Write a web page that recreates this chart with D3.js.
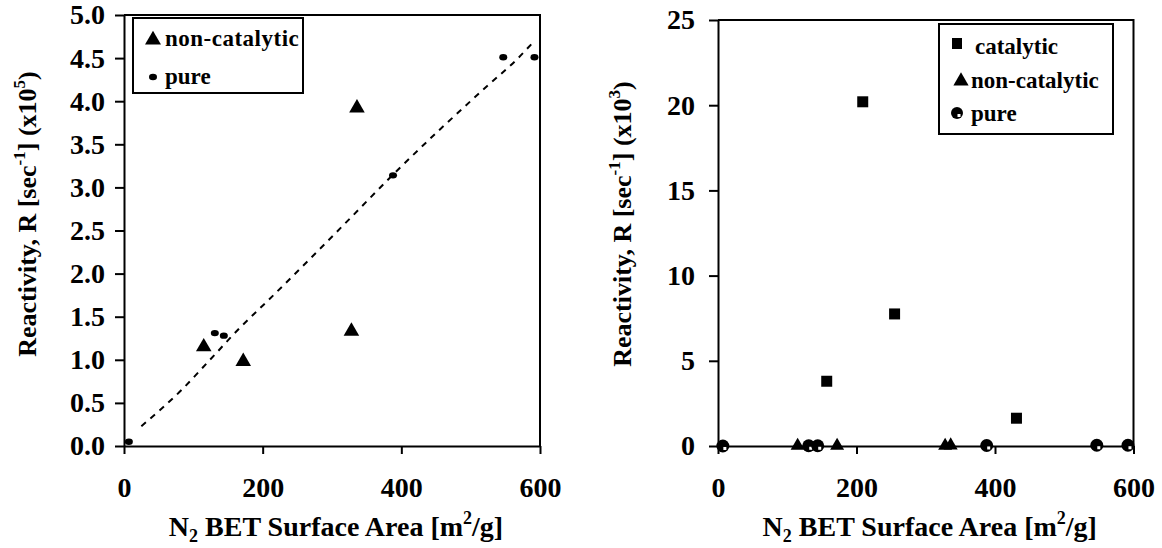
<!DOCTYPE html>
<html>
<head>
<meta charset="utf-8">
<script src="https://cdn.jsdelivr.net/npm/d3@7"></script>
<style>
  body { margin: 0; background: #fff; }
  svg text { font-family: "Liberation Serif", "Times New Roman", serif; font-weight: bold; fill: #000; }
</style>
</head>
<body>
<div id="chart"></div>
<script>
// tick values
const xTicks = [0, 200, 400, 600];
const leftYTicks = [0, 0.5, 1.0, 1.5, 2.0, 2.5, 3.0, 3.5, 4.0, 4.5, 5.0];
const rightYTicks = [0, 5, 10, 15, 20, 25];

// left panel, reactivity x10^5
const nonCatX = [115, 172, 328, 336];
const nonCatY = [1.15, 0.98, 1.33, 3.92];
const pureX = [7, 131, 144, 388, 547, 592];
const pureY = [0.05, 1.31, 1.28, 3.14, 4.51, 4.51];
const fitX = [25, 83, 124, 167, 208, 326, 387, 523, 566, 592];
const fitY = [0.23, 0.65, 1.0, 1.37, 1.69, 2.64, 3.14, 4.17, 4.48, 4.7];

// right panel, reactivity x10^3
const catX = [157, 209, 255, 431];
const catY = [3.8, 20.2, 7.75, 1.63];
const nonCatY3 = [0.01, 0.01, 0.013, 0.039];
const pureY3 = [0.001, 0.013, 0.013, 0.031, 0.045, 0.045];

const w = 1162, h = 548;
const svg = d3.select("#chart").append("svg")
  .attr("width", w).attr("height", h);

//Builds the frame, axes and titles of one panel and returns its scales.
function drawPanel(opt) {
  const x = d3.scaleLinear().domain([0, 600]).range([opt.left, opt.right]);
  const y = d3.scaleLinear().domain([0, opt.yMax]).range([opt.bottom, opt.top]);

  //box on top and right
  svg.append("path")
    .attr("d", `M${opt.left},${opt.top}H${opt.right}V${opt.bottom}`)
    .attr("fill", "none").attr("stroke", "#000").attr("stroke-width", 2);

  const gx = svg.append("g")
    .attr("transform", `translate(0,${opt.bottom})`)
    .call(d3.axisBottom(x).tickValues(xTicks).tickSize(8).tickSizeOuter(0).tickPadding(23));
  const gy = svg.append("g")
    .attr("transform", `translate(${opt.left},0)`)
    .call(d3.axisLeft(y).tickValues(opt.yTicks).tickFormat(opt.fmt)
      .tickSize(9).tickSizeOuter(0).tickPadding(opt.labelPad));

  [gx, gy].forEach(g => {
    g.attr("font-family", null).attr("font-size", null);
    g.select(".domain").attr("stroke-width", 2);
    g.selectAll(".tick line").attr("stroke-width", 2);
    g.selectAll(".tick text").style("font-size", "28px");
  });

  //x title
  const xt = svg.append("text")
    .attr("x", (opt.left + opt.right) / 2 + 4)
    .attr("y", 536)
    .attr("text-anchor", "middle")
    .style("font-size", "28px");
  xt.append("tspan").text("N");
  xt.append("tspan").attr("dy", 6).style("font-size", "18px").text("2");
  xt.append("tspan").attr("dy", -6).text("\u00a0BET Surface Area [m");
  xt.append("tspan").attr("dy", -12).style("font-size", "18px").text("2");
  xt.append("tspan").attr("dy", 12).text("/g]");

  //y title
  const yt = svg.append("text")
    .attr("transform", `translate(${opt.titleX},${opt.titleY}) rotate(-90)`)
    .attr("text-anchor", "middle")
    .style("font-size", "26px");
  yt.append("tspan").text("Reactivity, R [sec");
  yt.append("tspan").attr("dy", -11).style("font-size", "17px").text("-1");
  yt.append("tspan").attr("dy", 11).text("] (x10");
  yt.append("tspan").attr("dy", -11).style("font-size", "17px").text(opt.exp);
  yt.append("tspan").attr("dy", 11).text(")");

  return { x, y };
}

const triangle = d3.symbol().type(d3.symbolTriangle);
const square = d3.symbol().type(d3.symbolSquare);

// ---------- left panel ----------
const L = drawPanel({
  left: 124, right: 540, top: 15, bottom: 446, yMax: 5,
  yTicks: leftYTicks, fmt: d3.format(".1f"), labelPad: 10,
  titleX: 36, titleY: 214, exp: "5"
});

//dashed fit
const fitLine = d3.line().curve(d3.curveMonotoneX)
  .x(d => L.x(d[0])).y(d => L.y(d[1]));
svg.append("path")
  .datum(d3.zip(fitX, fitY))
  .attr("d", fitLine)
  .attr("fill", "none").attr("stroke", "#000")
  .attr("stroke-width", 2).attr("stroke-dasharray", "6,6");

svg.selectAll(".ltri")
  .data(d3.zip(nonCatX, nonCatY)).enter().append("path")
  .attr("class", "ltri")
  .attr("d", triangle.size(105)())
  .attr("transform", d => `translate(${L.x(d[0])},${L.y(d[1])})`);

svg.selectAll(".lpure")
  .data(d3.zip(pureX, pureY)).enter().append("ellipse")
  .attr("class", "lpure")
  .attr("cx", d => L.x(d[0])).attr("cy", d => L.y(d[1]))
  .attr("rx", 4).attr("ry", 3.2);

//left legend
svg.append("rect").attr("x", 133).attr("y", 18).attr("width", 170).attr("height", 75)
  .attr("fill", "#fff").attr("stroke", "#000").attr("stroke-width", 2);
svg.append("path").attr("d", triangle.size(110)()).attr("transform", "translate(153,40)");
svg.append("ellipse").attr("cx", 153).attr("cy", 77).attr("rx", 4).attr("ry", 3.2);
svg.append("text").attr("x", 165).attr("y", 46).style("font-size", "23px")
  .style("letter-spacing", "0.5px").text("non-catalytic");
svg.append("text").attr("x", 165).attr("y", 84).style("font-size", "23px").text("pure");

// ---------- right panel ----------
const R = drawPanel({
  left: 718, right: 1133.5, top: 20, bottom: 446, yMax: 25,
  yTicks: rightYTicks, fmt: d3.format("d"), labelPad: 14,
  titleX: 631, titleY: 224, exp: "3"
});

svg.selectAll(".rsq")
  .data(d3.zip(catX, catY)).enter().append("path")
  .attr("class", "rsq")
  .attr("d", square.size(121)())
  .attr("transform", d => `translate(${R.x(d[0])},${R.y(d[1])})`);

svg.selectAll(".rtri")
  .data(d3.zip(nonCatX, nonCatY3)).enter().append("path")
  .attr("class", "rtri")
  .attr("d", triangle.size(85)())
  .attr("transform", d => `translate(${R.x(d[0])},${R.y(d[1])})`);

const rp = svg.selectAll(".rpure")
  .data(d3.zip(pureX, pureY3)).enter().append("g")
  .attr("class", "rpure")
  .attr("transform", d => `translate(${R.x(d[0])},${R.y(d[1])})`);
rp.append("circle").attr("r", 6.5);
rp.append("rect").attr("x", 0.5).attr("y", 1).attr("width", 3).attr("height", 3).attr("fill", "#fff");

//right legend
svg.append("rect").attr("x", 939).attr("y", 24).attr("width", 174).attr("height", 110)
  .attr("fill", "#fff").attr("stroke", "#000").attr("stroke-width", 2);
svg.append("rect").attr("x", 952).attr("y", 38).attr("width", 10).attr("height", 11);
svg.append("path").attr("d", triangle.size(100)()).attr("transform", "translate(961,81)");
const lg = svg.append("g").attr("transform", "translate(957,113)");
lg.append("circle").attr("r", 6);
lg.append("rect").attr("x", 0.5).attr("y", 1).attr("width", 3).attr("height", 3).attr("fill", "#fff");
svg.append("text").attr("x", 975).attr("y", 54).style("font-size", "23px").text("catalytic");
svg.append("text").attr("x", 971).attr("y", 88).style("font-size", "23px").text("non-catalytic");
svg.append("text").attr("x", 971).attr("y", 121).style("font-size", "23px").text("pure");
</script>
</body>
</html>
